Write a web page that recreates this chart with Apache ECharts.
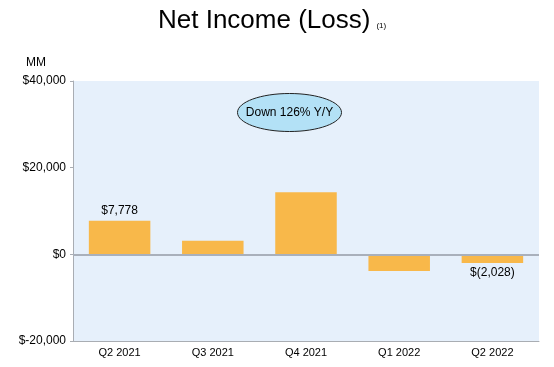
<!DOCTYPE html>
<html><head><meta charset="utf-8">
<script src="https://cdn.jsdelivr.net/npm/echarts@6/dist/echarts.min.js"></script>
<style>html,body{margin:0;padding:0;background:#fff}#c{width:554px;height:367px}</style>
</head><body><div id="c"></div>
<script>
const categories = ['Q2 2021','Q3 2021','Q4 2021','Q1 2022','Q2 2022'];
const netIncome = [7778, 3156, 14323, -3844, -2028];
const dataLabels = ['$7,778', '', '', '', '$(2,028)'];
const yTicks = [-20000, 0, 20000, 40000];

const FONT = 'Liberation Sans, Arial, sans-serif';
const chart = echarts.init(document.getElementById('c'), null, {renderer:'canvas'});
function fmt(v){ return v < 0 ? '$-' + Math.abs(v).toLocaleString('en-US') : '$' + v.toLocaleString('en-US'); }

chart.setOption({
  animation: false,
  title: {
    text: '{a|Net Income (Loss)}{b|(1)}',
    left: 153, top: 3,
    textStyle: { rich: {
      a: { fontSize: 26, fontFamily: FONT, color: '#000', fontWeight: 'normal' },
      b: { fontSize: 8, fontFamily: FONT, color: '#000', fontWeight: 'normal', padding:[10,0,0,6] }
    }}
  },
  grid: { left: 73, right: 15, top: 81, bottom: 26, show: true, backgroundColor: '#e6f0fb', borderWidth: 0 },
  xAxis: {
    type: 'category', data: categories,
    axisLine: { onZero: false, lineStyle: { color: '#a9adb3', width: 1 } },
    axisTick: { show: false },
    axisLabel: { fontFamily: FONT, fontSize: 11, color: '#000', margin: 6 }
  },
  yAxis: {
    type: 'value', min: -20000, max: 40000, interval: 20000,
    name: 'MM', nameLocation: 'end', nameGap: 12,
    nameTextStyle: { fontFamily: FONT, fontSize: 12, color: '#000', align: 'right', padding: [0, 27, 0, 0] },
    axisLine: { show: true, lineStyle: { color: '#a9adb3' } },
    axisTick: { show: true, length: 3, lineStyle: { color: '#a9adb3' } },
    splitLine: { show: false },
    axisLabel: { fontFamily: FONT, fontSize: 12, color: '#000', margin: 7, formatter: fmt }
  },
  series: [{
    type: 'bar',
    barWidth: '66%',
    itemStyle: { color: '#f8b84a' },
    data: netIncome.map((v, i) => ({
      value: v,
      label: {
        show: dataLabels[i] !== '',
        position: v < 0 ? 'bottom' : 'top',
        distance: 4,
        formatter: dataLabels[i],
        fontFamily: FONT, fontSize: 12, color: '#000'
      }
    })),
    markLine: {
      silent: true, symbol: 'none', label: { show: false },
      lineStyle: { color: '#a9b0bb', width: 2, type: 'solid' },
      data: [{ yAxis: 0 }]
    },
    z: 3
  }],
  graphic: [{
    type: 'group', left: 237, top: 93,
    children: [
      { type: 'ellipse', shape: { cx: 52, cy: 19, rx: 52, ry: 19 },
        style: { fill: '#b3e1f6', stroke: '#222', lineWidth: 1 } },
      { type: 'text', x: 52, y: 19,
        style: { text: 'Down 126% Y/Y', fill: '#000', font: '12px ' + FONT, textAlign: 'center', textVerticalAlign: 'middle' } }
    ]
  }]
});
</script></body></html>
